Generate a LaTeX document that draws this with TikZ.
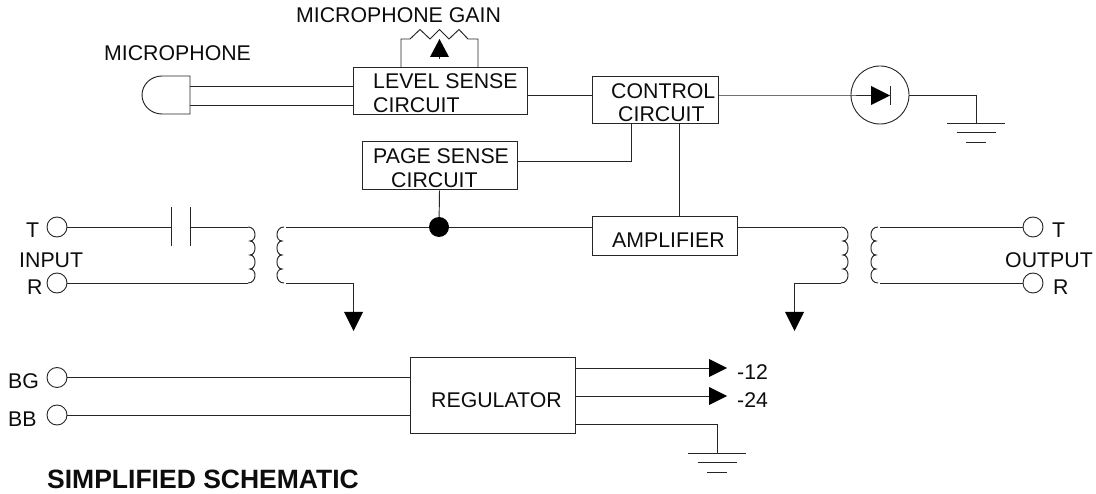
\documentclass[tikz,border=0pt]{standalone}
\usepackage{fontspec}
\setmainfont{Liberation Sans}
\usetikzlibrary{calc}
\tikzset{
  wire/.style={line width=0.95pt,draw=black!85},
  boxshape/.style={draw=black!85,line width=1pt,fill=white,inner sep=0pt,rectangle},
  txt/.style={inner sep=0pt,font=\fontsize{21.3}{23.5}\selectfont,align=left,text=black!95},
  terminal/.style={circle,draw=black!85,line width=0.9pt,fill=white,minimum size=20pt,inner sep=0pt},
  tip/.style={fill=black,draw=none},
}
\newcommand{\gndsym}[2]{%
  \draw[wire] (#1-29,#2) -- (#1+29,#2);
  \draw[wire] (#1-19.5,#2+9.5) -- (#1+19.5,#2+9.5);
  \draw[wire] (#1-10,#2+19) -- (#1+10,#2+19);
}
\newcommand{\coilright}[2]{%
  \draw[wire] (#1,#2) .. controls (#1+9,#2) and (#1+9,#2+14) .. (#1+2,#2+14)
     .. controls (#1+8.7,#2+14) and (#1+8.7,#2+28) .. (#1+2,#2+28)
     .. controls (#1+8.7,#2+28) and (#1+8.7,#2+42) .. (#1+2,#2+42)
     .. controls (#1+9,#2+42) and (#1+9,#2+56) .. (#1,#2+56);
}
\newcommand{\coilleft}[2]{%
  \draw[wire] (#1,#2) .. controls (#1-9,#2) and (#1-9,#2+14) .. (#1-2,#2+14)
     .. controls (#1-8.7,#2+14) and (#1-8.7,#2+28) .. (#1-2,#2+28)
     .. controls (#1-8.7,#2+28) and (#1-8.7,#2+42) .. (#1-2,#2+42)
     .. controls (#1-9,#2+42) and (#1-9,#2+56) .. (#1,#2+56);
}
\begin{document}
\begin{tikzpicture}[x=1pt,y=-1pt]
\useasboundingbox (0,0) rectangle (1096,494);
\fill[white] (0,0) rectangle (1096,494);

% boxes
\node[boxshape,minimum width=174pt,minimum height=47pt] (level) at (440,91.5) {};
\node[boxshape,minimum width=155pt,minimum height=48pt] (page) at (439.5,166) {};
\node[boxshape,minimum width=126pt,minimum height=47pt] (control) at (655,100.5) {};
\node[boxshape,minimum width=145pt,minimum height=39pt] (amp) at (664.5,236.5) {};
\node[boxshape,minimum width=165pt,minimum height=76pt] (reg) at (492.5,396) {};

% terminals
\node[terminal] (tin) at (57,227) {};
\node[terminal] (rin) at (57,283) {};
\node[terminal] (tout) at (1033,227) {};
\node[terminal] (rout) at (1033,283) {};
\node[terminal] (bg) at (57,377.5) {};
\node[terminal] (bb) at (57,415) {};
\node[circle,fill=black,minimum size=20pt,inner sep=0pt] (dot) at (439,227) {};
\node[circle,draw=black!85,line width=0.9pt,minimum size=58pt,inner sep=0pt] (led) at (880,95) {};

% named free ends
\coordinate (micT) at (190,86);
\coordinate (micB) at (190,105);
\coordinate (levelT) at (353,86);
\coordinate (levelB) at (353,105);
\coordinate (capL) at (171,227);
\coordinate (capR) at (190,227);
\coordinate (coil1T) at (248,227);
\coordinate (coil1B) at (248,283);
\coordinate (coil2T) at (286,227);
\coordinate (coil2B) at (286,283);
\coordinate (coil3T) at (841,227);
\coordinate (coil3B) at (841,283);
\coordinate (coil4T) at (880,227);
\coordinate (coil4B) at (880,283);
\coordinate (tipA) at (353,312);
\coordinate (tipB) at (794,312);
\coordinate (ledIn) at (842,95);
\coordinate (ledTip) at (871,95);
\coordinate (gndA) at (976,123);
\coordinate (gndB) at (717,453);
\coordinate (m12) at (709,368);
\coordinate (m24) at (709,396);

% microphone
\draw[wire,fill=white] (190,76) -- (162,76) .. controls (151,76) and (142,84.5) .. (142,95)
   .. controls (142,105.5) and (151,114) .. (162,114) -- (190,114) -- cycle;
\draw[wire] (micT) -- (levelT);
\draw[wire] (micB) -- (levelB);

% gain potentiometer
\draw[wire] (401,68) -- (401,39) -- (410,39) -- (420,29.5) -- (430,39) -- (439.5,29.5) -- (449,39)
   -- (459,29.5) -- (468,39) -- (478,39) -- (478,68);
\fill[tip] (439.5,39) -- (449,57) -- (430,57) -- cycle;
\draw[wire] (439.5,57) -- (439.5,59);

% top row
\draw[wire] (level.east |- 0,95) -- (control.west |- 0,95);
\draw[wire] (control.east |- 0,95) -- (ledIn) -- (ledTip);
\fill[tip] (871,86) -- (890,95.5) -- (871,105) -- cycle;
\draw[wire] (890.5,86) -- (890.5,105);
\draw[wire] (led.east) -| (gndA);
\gndsym{976}{123}

% control links
\draw[wire] (631,124) |- (page.east |- 0,161);
\draw[wire] (679,124) -- (679,217);
\draw[wire] (page.south) -- (dot);

% input
\draw[wire] (tin) -- (capL);
\draw[wire] (171,207) -- (171,246);
\draw[wire] (190,207) -- (190,246);
\draw[wire] (capR) -- (coil1T);
\draw[wire] (rin) -- (coil1B);
\coilright{248}{227}
\coilleft{284}{227}
\draw[wire] (coil2T) -- (dot);
\draw[wire] (dot) -- (amp.west |- 0,227);
\draw[wire] (coil2B) -| (tipA);
\fill[tip] (344,312) -- (363,312) -- (353.5,331) -- cycle;

% output
\draw[wire] (amp.east |- 0,227) -- (coil3T);
\coilright{841}{227}
\coilleft{878}{227}
\draw[wire] (coil4T) -- (tout);
\draw[wire] (coil4B) -- (rout);
\draw[wire] (coil3B) -| (tipB);
\fill[tip] (785,312) -- (804,312) -- (794.5,331) -- cycle;

% regulator
\draw[wire] (bg) -- (reg.west |- bg);
\draw[wire] (bb) -- (reg.west |- bb);
\draw[wire] (reg.east |- 0,368) -- (m12);
\draw[wire] (reg.east |- 0,396) -- (m24);
\fill[tip] (709,359) -- (727,368) -- (709,377) -- cycle;
\fill[tip] (709,387) -- (727,396) -- (709,405) -- cycle;
\draw[wire] (reg.east |- 0,424) -| (gndB);
\gndsym{717}{453}

% texts
\node[txt,anchor=base west] (tMicGain) at (296,23) {MICROPHONE GAIN};
\node[txt,anchor=base west] (tMic) at (104,61) {MICROPHONE};
\node[txt,anchor=base west] (tLevel1) at (373,89) {LEVEL SENSE};
\node[txt,anchor=base west] (tLevel2) at (373,113) {CIRCUIT};
\node[txt,anchor=base west] (tPage1) at (373,163.5) {PAGE SENSE};
\node[txt,anchor=base west] (tPage2) at (391,188) {CIRCUIT};
\node[txt,anchor=base west] (tControl1) at (611,98.5) {CONTROL};
\node[txt,anchor=base west] (tControl2) at (618,122) {CIRCUIT};
\node[txt,anchor=base west] (tAmp) at (612,248) {AMPLIFIER};
\node[txt,anchor=base west] (tReg) at (431,408) {REGULATOR};
\node[txt,anchor=base west] (tT1) at (26,238) {T};
\node[txt,anchor=base west] (tInput) at (19,268) {INPUT};
\node[txt,anchor=base west] (tR1) at (27,295) {R};
\node[txt,anchor=base west] (tT2) at (1052,238) {T};
\node[txt,anchor=base west] (tOutput) at (1005,268) {OUTPUT};
\node[txt,anchor=base west] (tR2) at (1053,295) {R};
\node[txt,anchor=base west] (tBG) at (8,389) {BG};
\node[txt,anchor=base west] (tBB) at (8,427) {BB};
\node[txt,anchor=base west] (tM12) at (737,380) {-12};
\node[txt,anchor=base west] (tM24) at (737,408) {-24};
\node[txt,anchor=base west,font=\fontsize{26.5}{28}\selectfont\bfseries] (tTitle) at (47,489) {SIMPLIFIED SCHEMATIC};
\end{tikzpicture}
\end{document}
